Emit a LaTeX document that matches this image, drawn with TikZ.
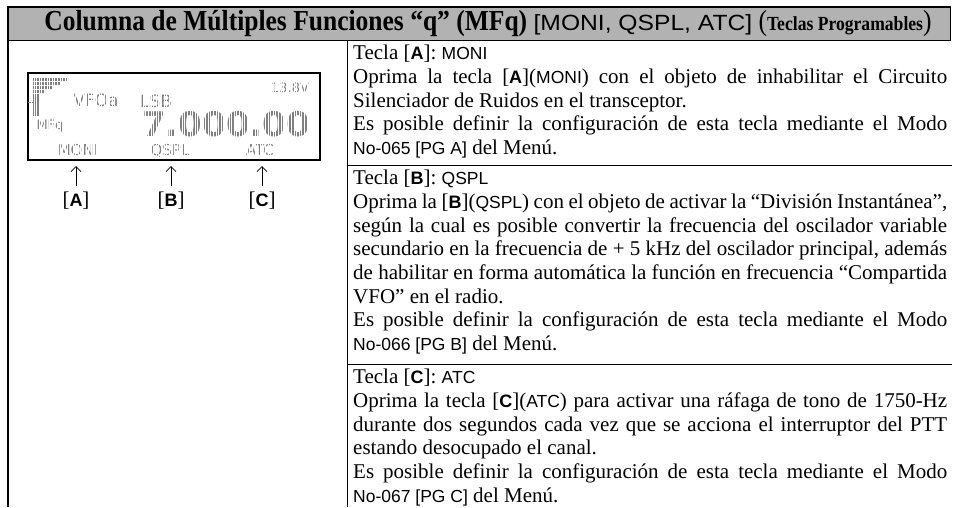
\documentclass[tikz,border=0pt]{standalone}
\usepackage{fontspec}
\setmainfont{Liberation Serif}
\newfontfamily\keyfont{Liberation Sans}
\newfontfamily\keywide[FakeStretch=1.12]{Liberation Sans}
\newfontfamily\headfont[FakeStretch=0.88]{Liberation Serif}
\newfontfamily\lcdfont{DejaVu Sans}
\usetikzlibrary{arrows.meta}
\definecolor{headgray}{gray}{0.70}
\definecolor{lcdgray}{gray}{0.5}
\newcommand{\tk}[1]{[{\keyfont\bfseries\fontsize{18}{18}\selectfont #1}]}
\newcommand{\sk}[1]{{\keyfont\fontsize{17.5}{17.5}\selectfont #1}}
\newlength{\colw}\setlength{\colw}{594pt}
\newcommand{\jl}[1]{\makebox[\colw][s]{#1}}

\begin{document}
\begin{tikzpicture}[x=1pt,y=-1pt,
    rule/.style={line width=0.9pt},
    celltext/.style={anchor=north west,inner sep=0pt,align=left,
      font=\fontsize{21}{23.7}\selectfont},
    lcdtext/.style={text=lcdgray,inner sep=0pt,font=\lcdfont\fontsize{#1}{#1}\selectfont},
    keylabel/.style={inner sep=1pt,font=\fontsize{21}{21}\selectfont},
    keyarrow/.style={line width=0.8pt,shorten <=5pt,-{Straight Barb[length=5pt,width=10pt]}}]
  \useasboundingbox (0,0) rectangle (959,507);

  % title bar
  \draw[fill=headgray,line width=1pt] (8,7) rectangle (950,40);
  \draw[line width=2.5pt] (6.5,7) -- (951,7);
  \node[inner sep=0pt] (title) at (488,24) {\headfont\bfseries\fontsize{29}{30}\selectfont
    Columna de Múltiples Funciones “q” (MFq)
    {\keywide\mdseries\fontsize{22}{22}\selectfont [MONI, QSPL, ATC]}
    {\mdseries(}{\fontsize{20}{20}\selectfont Teclas Programables}{\mdseries)}};

  % frame and rules
  \draw[line width=1.8pt] (8,7) -- (8,507);
  \draw[rule] (347,40) -- (347,507);
  \draw[rule] (347,165) -- (952,165);
  \draw[rule] (347,364) -- (952,364);

  % display
  \node[draw,line width=1.3pt,minimum width=292pt,minimum height=87pt,inner sep=0pt]
    (lcd) at (174,116.5) {};
  \fill[lcdgray] (33,78) rectangle (68,81) (33,82) rectangle (60,85)
    (33,86) rectangle (52,89) (33,90) rectangle (45,93) (33,94) rectangle (39,116);
  \draw[lcdgray,line width=1pt] (28,102) -- (33,102);
  \node[lcdtext=13] (volt) at (290,88) {13.8V};
  \node[lcdtext=17] (vfo) at (96,100) {VFOa};
  \node[lcdtext=17] (mode) at (156,101) {LSB};
  \node[lcdtext=13] (mfq) at (50,126) {MFq};
  \node[lcdtext=34,font=\lcdfont\bfseries\fontsize{34}{34}\selectfont,
    text depth=0pt,anchor=base] (freq) at (226,136) {7.000.00};
  \node[lcdtext=15,anchor=base] (softa) at (78,155) {MONI};
  \node[lcdtext=15,anchor=base] (softb) at (170,155) {QSPL};
  \node[lcdtext=15,anchor=base] (softc) at (260,155) {ATC};
  % dot matrix look
  \draw[white,line width=0.55pt,step=2.6] (30,75) grid (318,158);

  % keys under the display
  \foreach \k/\x in {A/76,B/171,C/262} {
    \coordinate (tip\k) at (\x,166);
    \node[keylabel] (key\k) at (\x,201) {\tk{\k}};
    \draw[keyarrow] (key\k.north) -- (tip\k);
  }

  % right column
  \node[celltext] (texta) at (353,45) {%
    Tecla \tk{A}: \sk{MONI}\\
    \jl{Oprima la tecla \tk{A}(\sk{MONI}) con el objeto de inhabilitar el Circuito}\\
    Silenciador de Ruidos en el transceptor.\\
    \jl{Es posible definir la configuración de esta tecla mediante el Modo}\\
    \sk{No-065 [PG A]} del Menú.};
  \node[celltext] (textb) at (353,170) {%
    Tecla \tk{B}: \sk{QSPL}\\
    \jl{Oprima la \tk{B}(\sk{QSPL}) con el objeto de activar la “División Instantánea”,}\\
    \jl{según la cual es posible convertir la frecuencia del oscilador variable}\\
    \jl{secundario en la frecuencia de + 5 kHz del oscilador principal, además}\\
    \jl{de habilitar en forma automática la función en frecuencia “Compartida}\\
    VFO” en el radio.\\
    \jl{Es posible definir la configuración de esta tecla mediante el Modo}\\
    \sk{No-066 [PG B]} del Menú.};
  \node[celltext] (textc) at (353,369) {%
    Tecla \tk{C}: \sk{ATC}\\
    \jl{Oprima la tecla \tk{C}(\sk{ATC}) para activar una ráfaga de tono de 1750-Hz}\\
    \jl{durante dos segundos cada vez que se acciona el interruptor del PTT}\\
    estando desocupado el canal.\\
    \jl{Es posible definir la configuración de esta tecla mediante el Modo}\\
    \sk{No-067 [PG C]} del Menú.};
\end{tikzpicture}
\end{document}
